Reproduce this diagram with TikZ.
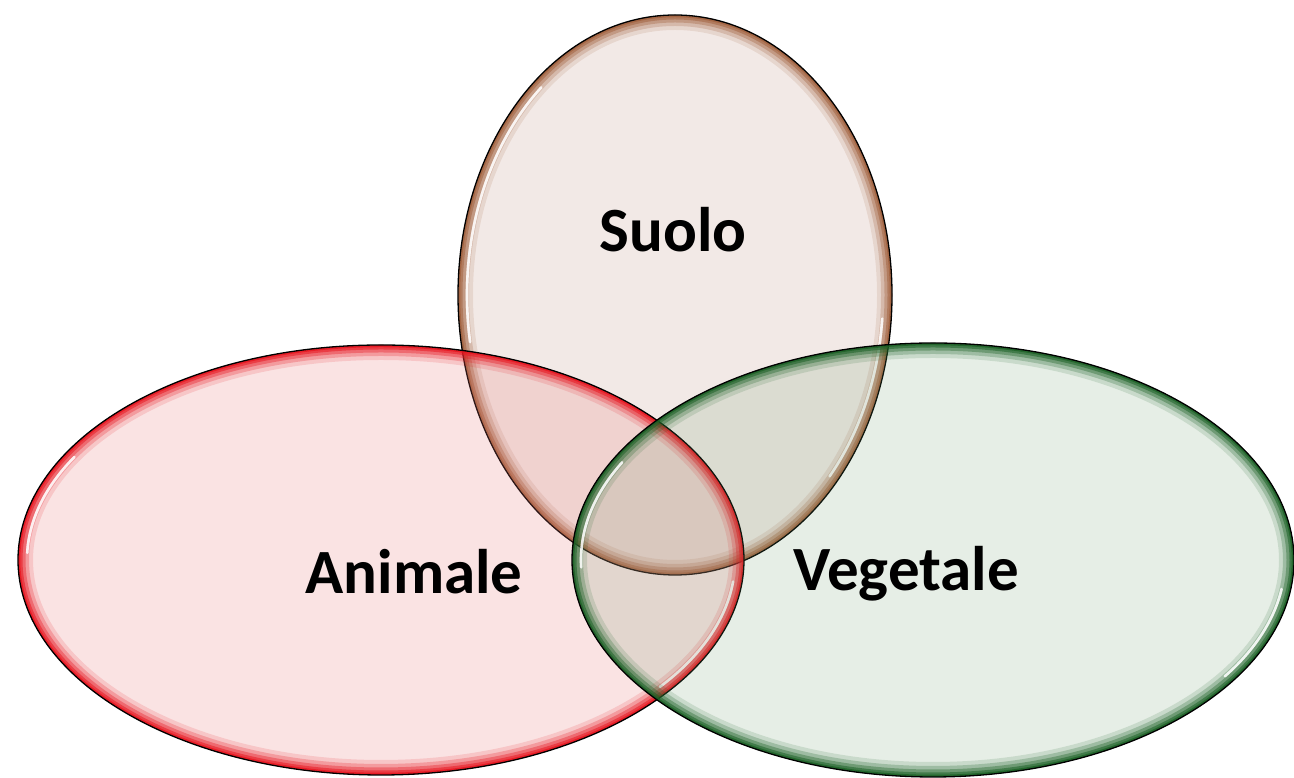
\documentclass[tikz,border=0pt]{standalone}
\usepackage{fontspec}
\setmainfont{Carlito}
\definecolor{suolocol}{RGB}{160,95,60}
\definecolor{animcol}{RGB}{230,20,30}
\definecolor{vegcol}{RGB}{25,95,35}
\definecolor{suolofill}{RGB}{170,110,90}
\definecolor{animfill}{RGB}{230,115,115}
\definecolor{vegfill}{RGB}{100,150,100}
\tikzset{
  lbl/.style={font=\fontsize{63}{70}\selectfont\bfseries, text=black, anchor=base, inner sep=0pt},
  hilite/.style={white, line width=2.6pt, opacity=0.85, line cap=round},
}
% #1 cx, #2 cy, #3 rx, #4 ry, #5 rim colour, #6 fill colour, #7 fill opacity
\newcommand{\glowell}[7]{%
  \fill[#6, fill opacity=#7] (#1,#2) ellipse [x radius=#3pt, y radius=#4pt];
  \begin{scope}
    \clip (#1,#2) ellipse [x radius=#3pt, y radius=#4pt];
    \foreach \w/\o in {30/0.14, 22/0.24, 15/0.36, 9/0.52, 4.5/0.75}
      \draw[#5, line width=\w pt, opacity=\o] (#1,#2) ellipse [x radius=#3pt, y radius=#4pt];
  \end{scope}
  \draw[black, line width=1.3pt] (#1,#2) ellipse [x radius=#3pt, y radius=#4pt];
}
\newcommand{\hl}[6]{% cx cy rx ry start end
  \draw[hilite, shift={(#1,#2)}] (#5:#3pt and #4pt) arc [start angle=#5, end angle=#6, x radius=#3pt, y radius=#4pt];
}
\begin{document}
\begin{tikzpicture}[x=1pt,y=1pt]
\useasboundingbox (0,0) rectangle (1294,778);
% Suolo
\glowell{675}{483}{217}{280}{suolocol}{suolofill}{0.15}
\hl{675}{483}{208}{271}{130}{190}
\hl{675}{483}{208}{271}{-42}{-5}
% Animale
\glowell{381}{218}{363}{215}{animcol}{animfill}{0.20}
\hl{381}{218}{354}{206}{150}{178}
\hl{381}{218}{354}{206}{-38}{-6}
% Vegetale
\glowell{933}{218}{361}{217}{vegcol}{vegfill}{0.16}
\hl{933}{218}{352}{208}{152}{182}
\hl{933}{218}{352}{208}{-34}{-8}
% labels
\node[lbl] (suolo) at (673,526) {Suolo};
\node[lbl] (animale) at (414,184) {Animale};
\node[lbl] (vegetale) at (906,187) {Vegetale};
\end{tikzpicture}
\end{document}
